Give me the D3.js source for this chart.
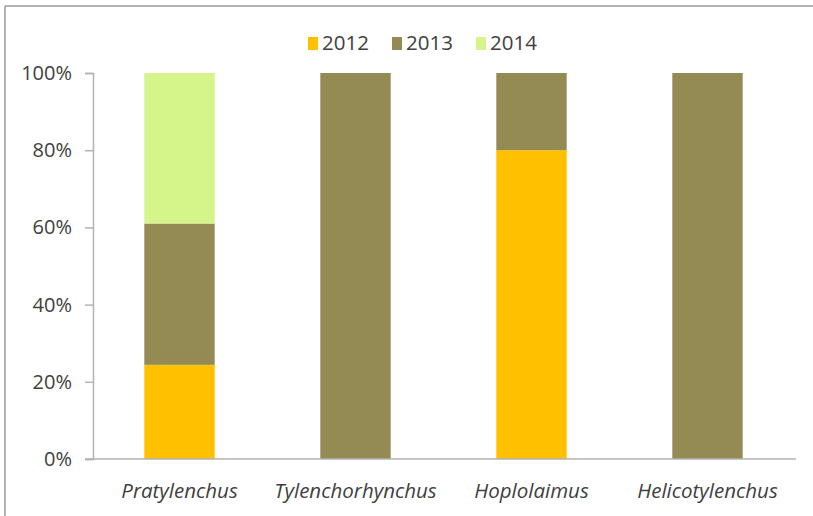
<!DOCTYPE html>
<html>
<head>
<meta charset="utf-8">
<script src="https://cdn.jsdelivr.net/npm/d3@7"></script>
<style>
  html, body { margin: 0; padding: 0; background: #fff; }
  svg { display: block; }
  text { font-family: "Open Sans", "Liberation Sans", sans-serif; fill: #404040; }
</style>
</head>
<body>
<svg id="chart" width="813" height="516"></svg>
<script>
// Genera of nematodes and the share (%) found in each sampling year
const genera = ["Pratylenchus", "Tylenchorhynchus", "Hoplolaimus", "Helicotylenchus"];
const years = ["2012", "2013", "2014"];
const share2012 = [24.4, 0, 80, 0];
const share2013 = [36.6, 100, 20, 100];
const share2014 = [39.0, 0, 0, 0];
const yTicks = [0, 20, 40, 60, 80, 100];
const yearColors = ["#FFC000", "#948A54", "#D5F58B"];

const rows = genera.map((g, i) => ({
  genus: g, "2012": share2012[i], "2013": share2013[i], "2014": share2014[i]
}));

const svg = d3.select("#chart");

// outer frame
svg.append("line").attr("x1", 5).attr("x2", 5).attr("y1", 6).attr("y2", 516)
  .attr("stroke", "#9a9a9a").attr("stroke-width", 1.5);
svg.append("line").attr("x1", 5).attr("x2", 813).attr("y1", 6).attr("y2", 6)
  .attr("stroke", "#9a9a9a").attr("stroke-width", 1.5);

const x = d3.scaleBand().domain(genera).range([91.5, 795.5]).paddingInner(0.6).paddingOuter(0.3);
const y = d3.scaleLinear().domain([0, 100]).range([459, 73]);
const color = d3.scaleOrdinal().domain(years).range(yearColors);

const stacked = d3.stack().keys(years)(rows);

svg.append("g").selectAll("g").data(stacked).join("g")
  .attr("fill", d => color(d.key))
  .selectAll("rect").data(d => d).join("rect")
  .attr("x", d => x(d.data.genus))
  .attr("width", x.bandwidth())
  .attr("y", d => y(d[1]))
  .attr("height", d => y(d[0]) - y(d[1]));

// y axis
const yAxis = svg.append("g").attr("transform", "translate(93,0)")
  .call(d3.axisLeft(y).tickValues(yTicks).tickFormat(d => d + "%").tickSize(8).tickPadding(13));
yAxis.select(".domain").attr("stroke", "#b3b3b3").attr("stroke-width", 1.5);
yAxis.selectAll(".tick line").attr("stroke", "#b3b3b3").attr("stroke-width", 1.5);
yAxis.selectAll("text").style("font-size", "20px").style("font-family", "'Open Sans', sans-serif")
  .style("fill", "#404040");

// x axis baseline
svg.append("line").attr("x1", 85).attr("x2", 796).attr("y1", y(0)).attr("y2", y(0))
  .attr("stroke", "#b3b3b3").attr("stroke-width", 1.5);

// category labels
svg.append("g").selectAll("text").data(genera).join("text")
  .attr("x", d => x(d) + x.bandwidth() / 2)
  .attr("y", 498)
  .attr("text-anchor", "middle")
  .style("font-size", "20.5px")
  .style("font-style", "italic")
  .text(d => d);

// legend
const legend = svg.append("g").selectAll("g").data(years).join("g")
  .attr("transform", (d, i) => `translate(${308 + i * 84},0)`);
legend.append("rect").attr("x", 0).attr("y", 37).attr("width", 10).attr("height", 13)
  .attr("fill", d => color(d));
legend.append("text").attr("x", 14).attr("y", 50).style("font-size", "20.5px").text(d => d);
</script>
</body>
</html>
